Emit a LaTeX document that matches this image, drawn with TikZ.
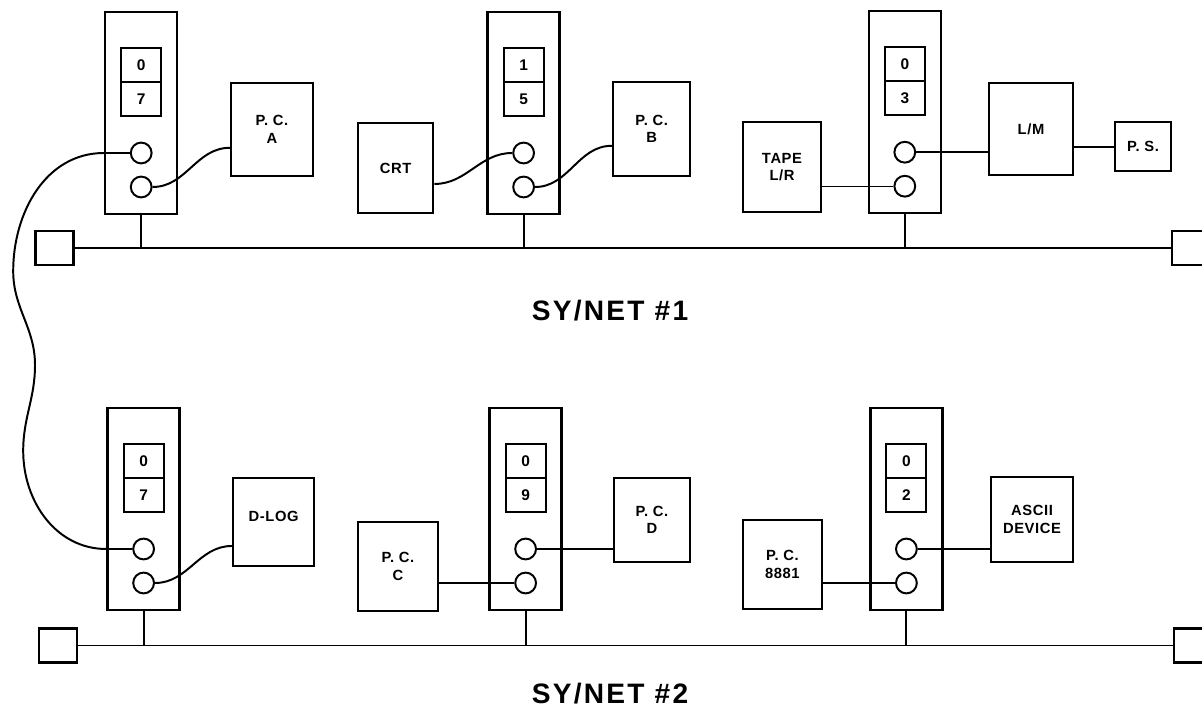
\documentclass[tikz,border=0pt]{standalone}
\usepackage{fontspec}
\setsansfont{Liberation Sans}
\newfontfamily\labfont[LetterSpace=4]{Liberation Sans}
\newfontfamily\netfont[LetterSpace=8]{Liberation Sans}
\usetikzlibrary{positioning,calc}
\tikzset{
  trunk/.style={draw,line width=1.8pt,minimum width=1.8cm,minimum height=5.05cm,inner sep=0pt},
  cell/.style={draw,line width=1.4pt,minimum width=1.0cm,minimum height=0.85cm,inner sep=0pt,
               font=\labfont\bfseries\fontsize{11}{13}\selectfont},
  port/.style={draw,circle,line width=1.4pt,minimum size=5.2mm,inner sep=0pt},
  dev/.style={draw,line width=1.7pt,minimum width=2cm,minimum height=2.25cm,align=center,
              inner sep=1pt,font=\labfont\bfseries\fontsize{10.5}{12.5}\selectfont},
  term/.style={draw,line width=1.8pt,minimum width=0.95cm,minimum height=0.85cm,inner sep=0pt},
  bus/.style={line width=1pt},
  drop/.style={line width=1.4pt},
  wire/.style={line width=1.4pt},
  thinwire/.style={line width=0.75pt},
  net/.style={font=\netfont\bfseries\fontsize{20}{24}\selectfont},
}
\begin{document}
\begin{tikzpicture}
    \useasboundingbox (0,0) rectangle (30.05,17.775);
    % terminators and buses
    \node[term] (tl1) at (1.36,11.575) {};
    \node[term] (tr1) at (29.78,11.575) {};
    \node[term] (tl2) at (1.45,1.64) {};
    \node[term] (tr2) at (29.83,1.64) {};
    \draw[bus] (tl1.east)--(tr1.west);
    \draw[bus] (tl2.east)--(tr2.west);
    % network interface units
    \foreach \un/\x/\y/\hi/\lo/\t in {u1/3.53/14.95/0/7/tl1, u2/13.09/14.95/1/5/tl1,
        u3/22.62/14.97/0/3/tl1, u4/3.59/5.05/0/7/tl2, u5/13.14/5.05/0/9/tl2, u6/22.66/5.05/0/2/tl2}{
      \node[trunk] (\un) at (\x,\y) {};
      \node[cell] (\un hi) at ([yshift=12mm]\un.center) {\hi};
      \node[cell] (\un lo) at ([yshift=3.5mm]\un.center) {\lo};
      \node[port] (\un a) at ([yshift=-10mm]\un.center) {};
      \node[port] (\un b) at ([yshift=-18.5mm]\un.center) {};
      \draw[drop] (\un.south)--(\un.south|-\t.east);
    }
    % devices, net 1
    \node[dev,minimum width=2.05cm,minimum height=2.33cm] (pcA) at (6.8,14.54) {P. C.\\A};
    \node[dev,minimum width=1.875cm] (crt) at (9.89,13.575) {CRT};
    \node[dev,minimum width=1.93cm,minimum height=2.35cm] (pcB) at (16.29,14.55) {P. C.\\B};
    \node[dev,minimum width=1.95cm] (tape) at (19.55,13.6) {TAPE\\L/R};
    \node[dev,minimum width=2.1cm,minimum height=2.3cm] (lm) at (25.775,14.55) {L/M};
    \node[dev,minimum width=1.4cm,minimum height=1.23cm] (ps) at (28.575,14.11) {P. S.};
    % devices, net 2
    \node[dev,minimum width=2.03cm,minimum height=2.2cm] (dlog) at (6.84,4.725) {\raisebox{3mm}{D-LOG}};
    \node[dev,minimum width=2.0cm,minimum height=2.22cm] (pcC) at (9.95,3.61) {P. C.\\C};
    \node[dev,minimum width=1.9cm,minimum height=2.1cm] (pcD) at (16.3,4.775) {P. C.\\D};
    \node[dev,minimum width=1.98cm,minimum height=2.22cm] (pcE) at (19.56,3.66) {P. C.\\8881};
    \node[dev,minimum width=2.05cm,minimum height=2.13cm] (ascii) at (25.8,4.79) {ASCII\\DEVICE};
    \node[net] (net1) at (15.25,10.0) {SY/NET \#1};
    \node[net] (net2) at (15.25,0.43) {SY/NET \#2};
    % cables
    \draw[wire] (u1b.east) to[out=0,in=180] ([yshift=-4.6mm]pcA.west);
    \draw[wire] ([yshift=-4mm]crt.east) to[out=0,in=180] (u2a.west);
    \draw[wire] (u2b.east) to[out=0,in=180] ([yshift=-4.2mm]pcB.west);
    \draw[thinwire] (u3b.west-|tape.east)--(u3b.west);
    \draw[wire] (u3a.east)--(u3a.east-|lm.west);
    \draw[wire] (ps.west-|lm.east)--(ps.west);
    \draw[wire] (u4b.east) to[out=0,in=180] ([yshift=-6mm]dlog.west);
    \draw[wire] (u5b.west-|pcC.east)--(u5b.west);
    \draw[thinwire] (u5a.east)--(u5a.east-|pcD.west);
    \draw[wire] (u6b.west-|pcE.east)--(u6b.west);
    \draw[wire] (u6a.east)--(u6a.east-|ascii.west);
    \draw[wire] (u1a.west)--(u1a.west-|u1.west) to[out=180,in=90] (0.33,11.0)
        to[out=-90,in=90] (0.875,8.65) to[out=-90,in=90] (0.58,6.5)
        to[out=-90,in=180] (u4a.west-|u4.west)--(u4a.west);
\end{tikzpicture}
\end{document}
